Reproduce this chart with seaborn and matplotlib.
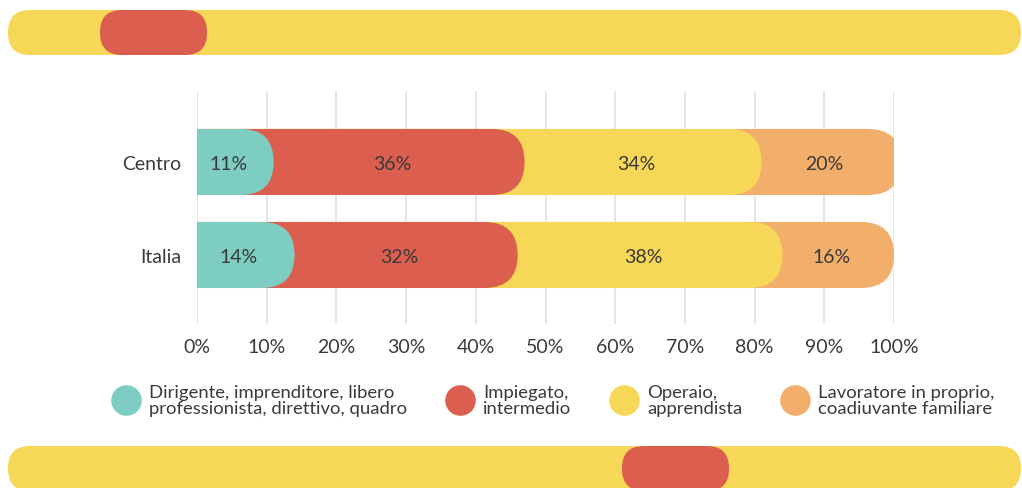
import pandas as pd
import matplotlib.pyplot as plt
import seaborn as sns
from matplotlib.patches import FancyBboxPatch
from matplotlib.lines import Line2D

# Dati
regioni = ['Centro', 'Italia']
categorie = ['Dirigente, imprenditore, libero\nprofessionista, direttivo, quadro',
             'Impiegato,\nintermedio',
             'Operaio,\napprendista',
             'Lavoratore in proprio,\ncoadiuvante familiare']
dirigente = [11, 14]
impiegato = [36, 32]
operaio = [34, 38]
lavoratore = [20, 16]
colori = ['#7ECDC3', '#DB5E4F', '#F6D757', '#F2AE6B']
tick_x = [0, 10, 20, 30, 40, 50, 60, 70, 80, 90, 100]

valori = [dirigente, impiegato, operaio, lavoratore]
righe = []
for r, reg in enumerate(regioni):
    inizio = 0
    for c in range(len(categorie)):
        v = valori[c][r]
        righe.append({'regione': reg, 'cat': c, 'valore': v,
                      'inizio': inizio, 'fine': inizio + v})
        inizio += v
df = pd.DataFrame(righe)

sns.set_theme(style='white')
plt.rcParams['font.family'] = ['Lato', 'DejaVu Sans']

W, H = 1022, 489
fig = plt.figure(figsize=(W / 100, H / 100), dpi=100)
ax = fig.add_axes([197 / W, 1 - 325 / H, 697 / W, 233 / H])
ax.patch.set_visible(False)

xlim = (0, 100)
ylim = (1.742, -0.763)
px_x = 697 / (xlim[1] - xlim[0])
px_y = 233 / abs(ylim[0] - ylim[1])
aspetto = px_x / px_y
alt_barra = 0.71
r_x = (alt_barra / 2) / aspetto

# barre cumulative, dalla più lunga alla più corta, con estremità arrotondate
for c in reversed(range(len(categorie))):
    n_prima = len(ax.patches)
    sns.barplot(data=df[df['cat'] == c], x='fine', y='regione', order=regioni,
                color=colori[c], saturation=1, width=alt_barra, orient='h', ax=ax)
    for p in list(ax.patches)[n_prima:]:
        x0, y0, w, h = p.get_x(), p.get_y(), p.get_width(), p.get_height()
        p.remove()
        ax.add_patch(FancyBboxPatch((x0 - r_x, y0), w + r_x, h,
                                    boxstyle=f'round,pad=0,rounding_size={r_x}',
                                    mutation_aspect=aspetto,
                                    fc=colori[c], ec='none', zorder=2))

for _, riga in df.iterrows():
    y = regioni.index(riga['regione'])
    ax.text((riga['inizio'] + riga['fine']) / 2 - 1, y + 0.02, f"{riga['valore']}%",
            ha='center', va='center', fontsize=14, color='#3a3a3a', zorder=3)

ax.set_xlim(*xlim)
ax.set_ylim(*ylim)
ax.set_xticks(tick_x)
ax.set_xticklabels([f'{t}%' for t in tick_x])
ax.xaxis.grid(True, color='#e4e4e4', lw=1.3)
ax.set_axisbelow(True)
ax.tick_params(axis='both', length=0, labelsize=14, colors='#3a3a3a')
ax.tick_params(axis='x', pad=10)
ax.tick_params(axis='y', pad=11)
ax.set_xlabel('')
ax.set_ylabel('')
sns.despine(ax=ax, left=True, bottom=True)

# legenda
maniglie = [Line2D([], [], marker='o', ls='', markersize=21,
                   markerfacecolor=c, markeredgecolor=c) for c in colori]
leg = fig.legend(maniglie, categorie, loc='center', bbox_to_anchor=(554 / W, 1 - 401 / H),
                 ncol=4, frameon=False, fontsize=13.3, handletextpad=0.55,
                 columnspacing=2.15, handlelength=1.4, labelcolor='#3a3a3a')
for t in leg.get_texts():
    t.set_linespacing(0.95)

# decorazioni (pillole gialle e rosse)
bg = fig.add_axes([0, 0, 1, 1], zorder=-1)
bg.set_xlim(0, W)
bg.set_ylim(H, 0)
bg.axis('off')
for (x, y, w, col) in [(8, 11, 1013, '#F6D757'), (100, 11, 107, '#DB5E4F'),
                       (8, 447, 1013, '#F6D757'), (622, 447, 107, '#DB5E4F')]:
    bg.add_patch(FancyBboxPatch((x, y), w, 45, boxstyle='round,pad=0,rounding_size=22',
                                fc=col, ec='none'))

fig.savefig('out.png', dpi=100)
